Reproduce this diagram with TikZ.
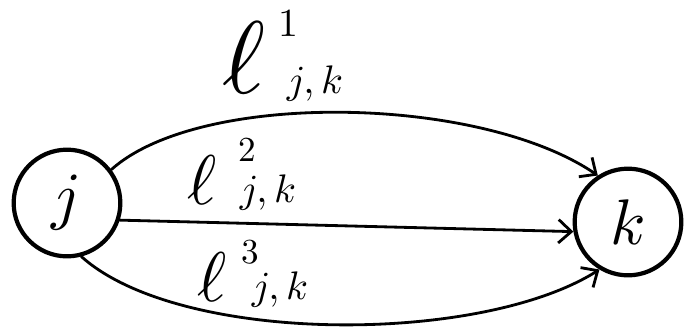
\documentclass[tikz,border=0pt]{standalone}
\usetikzlibrary{arrows.meta}
\begin{document}
\begin{tikzpicture}[x=0.03cm,y=-0.03cm,
  vert/.style={draw,line width=3.6pt,circle,minimum size=3.2cm,inner sep=0pt},
  vlab/.style={inner sep=0pt,scale=5.5},
  edge/.style={line width=2.4pt,line cap=round,-{Straight Barb[length=11pt,width=20pt,line width=2.4pt]}},
  big/.style={inner sep=0pt,scale=#1}]
\useasboundingbox (0,0) rectangle (685,335);
\node[vert] (j) at (67,203) {};
\node[vert] (k) at (628,222) {};
\node[vlab] (jl) at (j.center) {$j$};
\node[vlab] (kl) at (k.center) {$k$};
\draw[edge] (j.37) .. controls (200,90) and (480,95) .. (k.123);
\draw[edge] (j.-18) -- (k.190);
\draw[edge] (j.-75) .. controls (180,345) and (480,345) .. (k.-121);
% label 1
\node[big=8.8] (l1) at (244,58) {$\ell$};
\node[big=3.4] (s1) at (288,24) {$1$};
\node[big=3.4] (t1) at (315,84) {$j,k$};
% label 2
\node[big=6.0] (l2) at (202,180) {$\ell$};
\node[big=3.0] (s2) at (247,150) {$2$};
\node[big=3.4] (t2) at (268,193) {$j,k$};
% label 3
\node[big=6.0] (l3) at (212,277) {$\ell$};
\node[big=3.0] (s3) at (250,252) {$3$};
\node[big=3.4] (t3) at (280,290) {$j,k$};
\end{tikzpicture}
\end{document}
